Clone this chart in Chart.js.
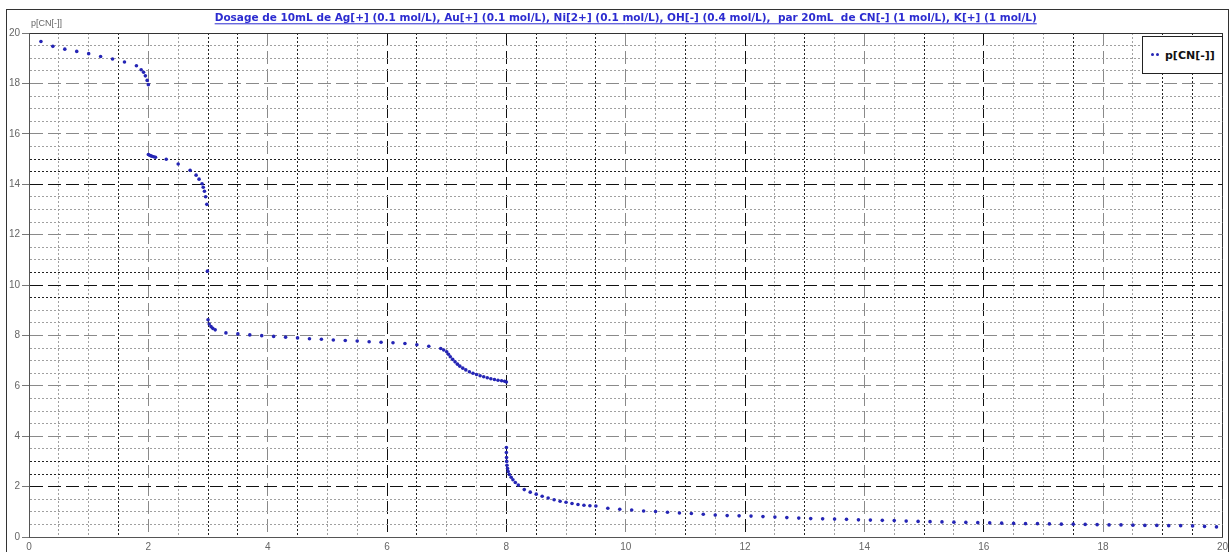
<!DOCTYPE html>
<html>
<head>
<meta charset="utf-8">
<script src="https://cdn.jsdelivr.net/npm/chart.js@4.4.0/dist/chart.umd.min.js"></script>
<style>
  html, body { margin: 0; padding: 0; background: #fff; overflow: hidden; }
  #wrap { position: relative; width: 1230px; height: 552px; }
  #frame { position: absolute; left: 6px; top: 9px; width: 1221px; height: 560px; border: 1px solid #333; pointer-events: none; }
  #legend { position: absolute; left: 1142px; top: 36px; width: 81px; height: 38px; background: #fff; border: 1px solid #222;
            font: bold 11px "DejaVu Sans", Verdana, sans-serif; color: #111; display: flex; align-items: center; box-sizing: border-box; }
  #legend .mk { display: inline-block; width: 10px; margin: 0 4px 0 8px; position: relative; height: 4px; }
  #legend .mk i { position: absolute; top: 0; width: 3px; height: 3px; border-radius: 50%; background: #2525b5; }
</style>
</head>
<body>
<div id="wrap">
  <canvas id="chart" width="1230" height="552"></canvas>
  <div id="frame"></div>
  <div id="legend"><span class="mk"><i style="left:0"></i><i style="left:5px"></i></span><span id="legendLabel"></span></div>
</div>
<script>
const chartTitle = 'Dosage de 10mL de Ag[+] (0.1 mol/L), Au[+] (0.1 mol/L), Ni[2+] (0.1 mol/L), OH[-] (0.4 mol/L),  par 20mL  de CN[-] (1 mol/L), K[+] (1 mol/L)';
const seriesLabel = 'p[CN[-]]';
const yAxisTitle = 'p[CN[-]]';

// volume of CN[-] added (mL)
const volumes = [
  0.2, 0.4, 0.6, 0.8, 1.0, 1.2, 1.4, 1.6, 1.8, 1.88, 1.92, 1.95, 1.98, 2.0,
  2.0, 2.02, 2.04, 2.06, 2.09, 2.12, 2.3, 2.5, 2.7, 2.8, 2.85, 2.9, 2.92, 2.94, 2.96, 2.98, 2.99,
  3.0, 3.02, 3.05, 3.08, 3.12, 3.3, 3.5, 3.7, 3.9, 4.1, 4.3, 4.5, 4.7, 4.9, 5.1, 5.3, 5.5, 5.7, 5.9,
  6.1, 6.3, 6.5, 6.7, 6.9, 6.95, 7.0, 7.03, 7.06, 7.1, 7.14, 7.18, 7.22, 7.27, 7.32, 7.38, 7.44, 7.5,
  7.56, 7.62, 7.68, 7.74, 7.8, 7.86, 7.92, 7.97, 8.0,
  8.0, 8.0, 8.003, 8.006, 8.01, 8.02, 8.03, 8.05, 8.08, 8.11, 8.15, 8.2, 8.3, 8.4, 8.5, 8.6, 8.7, 8.8,
  8.9, 9.0, 9.1, 9.2, 9.3, 9.4, 9.5,
  9.7, 9.9, 10.1, 10.3, 10.5, 10.7, 10.9, 11.1, 11.3, 11.5, 11.7, 11.9, 12.1, 12.3, 12.5, 12.7, 12.9,
  13.1, 13.3, 13.5, 13.7, 13.9, 14.1, 14.3, 14.5, 14.7, 14.9, 15.1, 15.3, 15.5, 15.7, 15.9, 16.1, 16.3,
  16.5, 16.7, 16.9, 17.1, 17.3, 17.5, 17.7, 17.9, 18.1, 18.3, 18.5, 18.7, 18.9, 19.1, 19.3, 19.5, 19.7, 19.9
];

// p[CN[-]] read at each volume
const pCN = [
  19.66, 19.47, 19.36, 19.27, 19.18, 19.07, 18.97, 18.85, 18.70, 18.54, 18.44, 18.30, 18.12, 17.95,
  15.18, 15.15, 15.13, 15.11, 15.09, 15.07, 14.99, 14.80, 14.55, 14.36, 14.20, 14.02, 13.88, 13.72, 13.50, 13.20, 10.55,
  8.62, 8.45, 8.35, 8.28, 8.22, 8.10, 8.06, 8.02, 7.99, 7.96, 7.93, 7.90, 7.87, 7.85, 7.82, 7.80, 7.78, 7.75, 7.73,
  7.71, 7.68, 7.63, 7.57, 7.48, 7.42, 7.35, 7.25, 7.15, 7.05, 6.95, 6.86, 6.78, 6.70, 6.63, 6.56, 6.50, 6.45,
  6.40, 6.36, 6.32, 6.28, 6.25, 6.22, 6.20, 6.18, 6.15,
  3.55, 3.35, 3.15, 3.00, 2.85, 2.72, 2.60, 2.48, 2.37, 2.27, 2.16, 2.06, 1.88, 1.78, 1.70, 1.62, 1.55, 1.48,
  1.42, 1.38, 1.33, 1.29, 1.26, 1.24, 1.23,
  1.14, 1.10, 1.07, 1.03, 1.01, 0.98, 0.95, 0.93, 0.90, 0.87, 0.85, 0.84, 0.83, 0.81, 0.79, 0.77, 0.75,
  0.73, 0.72, 0.71, 0.70, 0.68, 0.67, 0.66, 0.65, 0.63, 0.62, 0.61, 0.60, 0.59, 0.58, 0.57, 0.56, 0.55,
  0.54, 0.53, 0.53, 0.52, 0.51, 0.51, 0.50, 0.49, 0.48, 0.48, 0.47, 0.46, 0.46, 0.45, 0.45, 0.44, 0.42, 0.40
];

// tick values drawn darker in the original grid
const darkMajorX = [6, 8, 12, 16];
const darkMajorY = [14, 10, 2];
const darkMinorX = [1.5, 3, 3.5, 4.5, 6.5, 8.5, 9.5, 11, 13, 15, 17.5, 19, 19.5];
const darkMinorY = [15, 14.5, 10.5, 9.5, 3, 2.5];

const isMajor = v => Math.abs(v % 2) < 1e-9;

function gridColor(darkMajor, darkMinor) {
  return ctx => {
    const v = ctx.tick ? ctx.tick.value : 0;
    if (v === 20) return '#333';
    if (isMajor(v)) return darkMajor.includes(v) ? '#111' : '#8a8a8a';
    return darkMinor.includes(v) ? '#222' : '#a0a0a0';
  };
}
function gridDash(ctx) {
  if (!ctx.tick) return [];
  const v = ctx.tick.value;
  if (v === 20 || v === 0) return [];
  return isMajor(v) ? [13, 5] : [2, 2];
}

const underlineTitle = {
  id: 'underlineTitle',
  afterDraw(chart) {
    const tb = chart.titleBlock;
    const o = chart.options.plugins.title;
    const c = chart.ctx;
    c.save();
    c.font = `bold ${o.font.size}px ${o.font.family}`;
    const w = c.measureText(o.text).width;
    const cx = (tb.left + tb.right) / 2;
    const y = tb.top + o.padding.top + o.font.size * 1.2 / 2 + 5.5;
    c.strokeStyle = o.color;
    c.lineWidth = 1;
    c.beginPath();
    c.moveTo(cx - w / 2, y);
    c.lineTo(cx + w / 2, y);
    c.stroke();
    // y axis name above the axis
    c.font = '9px "Liberation Sans", Arial, sans-serif';
    c.fillStyle = '#666';
    c.textBaseline = 'middle';
    c.fillText(yAxisTitle, chart.chartArea.left + 2, chart.chartArea.top - 9);
    c.restore();
  }
};

const tickFont = { family: '"Liberation Sans", Arial, sans-serif', size: 10 };

new Chart(document.getElementById('chart'), {
  type: 'scatter',
  data: {
    datasets: [{
      label: seriesLabel,
      data: volumes.map((v, i) => ({ x: v, y: pCN[i] })),
      pointRadius: 1.8,
      pointBorderWidth: 0,
      backgroundColor: '#2525b5',
      borderColor: '#2525b5',
      showLine: false
    }]
  },
  options: {
    responsive: false,
    animation: false,
    layout: { padding: { left: 7, right: 7, top: 0, bottom: 0 } },
    plugins: {
      legend: { display: false },
      tooltip: { enabled: false },
      title: {
        display: true,
        text: chartTitle,
        fullSize: false,
        color: '#2b2bd0',
        font: { family: '"DejaVu Sans", Verdana, sans-serif', size: 10.5, weight: 'bold' },
        padding: { top: 12, bottom: 8.4 }
      }
    },
    scales: {
      x: {
        type: 'linear',
        min: 0,
        max: 20,
        afterFit: s => { s.height = 15; },
        ticks: {
          stepSize: 0.5,
          autoSkip: false,
          maxRotation: 0,
          padding: 2,
          color: '#666',
          font: tickFont,
          callback: v => isMajor(v) ? String(v) : ''
        },
        grid: {
          color: gridColor(darkMajorX, darkMinorX),
          tickLength: 2,
          tickColor: 'rgba(0,0,0,0)'
        },
        border: { color: '#555', width: 1, dash: gridDash }
      },
      y: {
        type: 'linear',
        min: 0,
        max: 20,
        afterFit: s => { s.width = 22; },
        ticks: {
          stepSize: 0.5,
          autoSkip: false,
          padding: 2,
          color: '#666',
          font: tickFont,
          callback: v => isMajor(v) ? String(v) : ''
        },
        grid: {
          color: gridColor(darkMajorY, darkMinorY),
          tickLength: 7,
          tickColor: ctx => (ctx.tick && isMajor(ctx.tick.value)) ? '#777' : 'rgba(0,0,0,0)'
        },
        border: { color: '#555', width: 1, dash: gridDash }
      }
    }
  },
  plugins: [underlineTitle]
});

document.getElementById('legendLabel').textContent = seriesLabel;
</script>
</body>
</html>
